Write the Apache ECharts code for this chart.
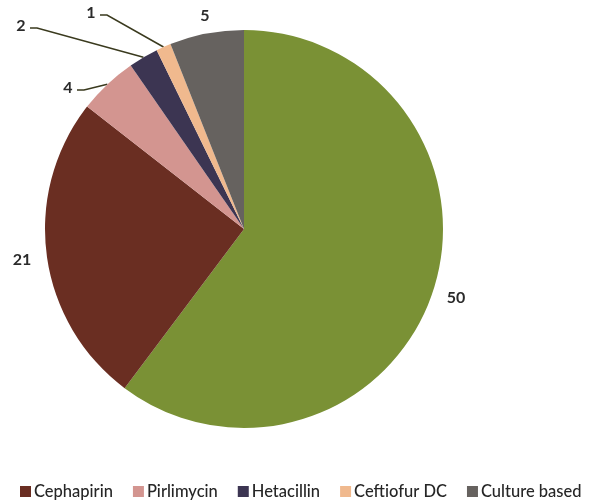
<!DOCTYPE html>
<html>
<head>
<meta charset="utf-8">
<script src="https://cdn.jsdelivr.net/npm/echarts@6/dist/echarts.min.js"></script>
<style>
  html, body { margin: 0; padding: 0; background: #fff; }
  #main { width: 592px; height: 501px; }
</style>
</head>
<body>
<div id="main"></div>
<script>
// slice names, clockwise from 12 o'clock (green one is not in the legend)
const categories = ['Other', 'Cephapirin', 'Pirlimycin', 'Hetacillin', 'Ceftiofur DC', 'Culture based']
const values = [50, 21, 4, 2, 1, 5]
const legendNames = ['Cephapirin', 'Pirlimycin', 'Hetacillin', 'Ceftiofur DC', 'Culture based']
const colors = ['#7a9135', '#6a2e22', '#d39590', '#3c3552', '#f0b98e', '#66625f']

// label placement (x, y) and whether a leader line is drawn
const labelSpots = [
  [456, 298, false],
  [22, 260, false],
  [68, 88, true],
  [21, 26, true],
  [91, 13, true],
  [205, 16, false]
]

const chart = echarts.init(document.getElementById('main'))

const option = {
  color: colors,
  textStyle: { fontFamily: 'Lato, sans-serif' },
  legend: {
    data: legendNames,
    left: 15,
    top: 478,
    itemWidth: 11,
    itemHeight: 11,
    itemGap: 20,
    icon: 'rect',
    textStyle: { fontSize: 16.5, fontWeight: 500, color: '#262626', padding: [0, 0, 0, -2] }
  },
  series: [{
    type: 'pie',
    center: [244, 229],
    radius: 199,
    startAngle: 90,
    clockwise: true,
    avoidLabelOverlap: false,
    emphasis: { disabled: true },
    data: categories.map((name, i) => ({
      name: name,
      value: values[i],
      labelLine: { show: labelSpots[i][2] }
    })),
    label: {
      show: true,
      position: 'outside',
      formatter: '{c}',
      fontSize: 16,
      fontWeight: 'bold',
      color: '#2b2b2b'
    },
    labelLine: {
      show: true,
      length: 10,
      length2: 10,
      smooth: false,
      lineStyle: { color: '#3a3a1e', width: 1.5 }
    },
    labelLayout: function (params) {
      const s = labelSpots[params.dataIndex]
      const res = { x: s[0], y: s[1], align: 'center', verticalAlign: 'middle' }
      if (s[2] && params.labelLinePoints) {
        const start = params.labelLinePoints[0]
        res.labelLinePoints = [
          start,
          [s[0] + 16, s[1] + 2],
          [s[0] + 9, s[1] + 2]
        ]
      }
      return res
    }
  }]
}

chart.setOption(option)
</script>
</body>
</html>
